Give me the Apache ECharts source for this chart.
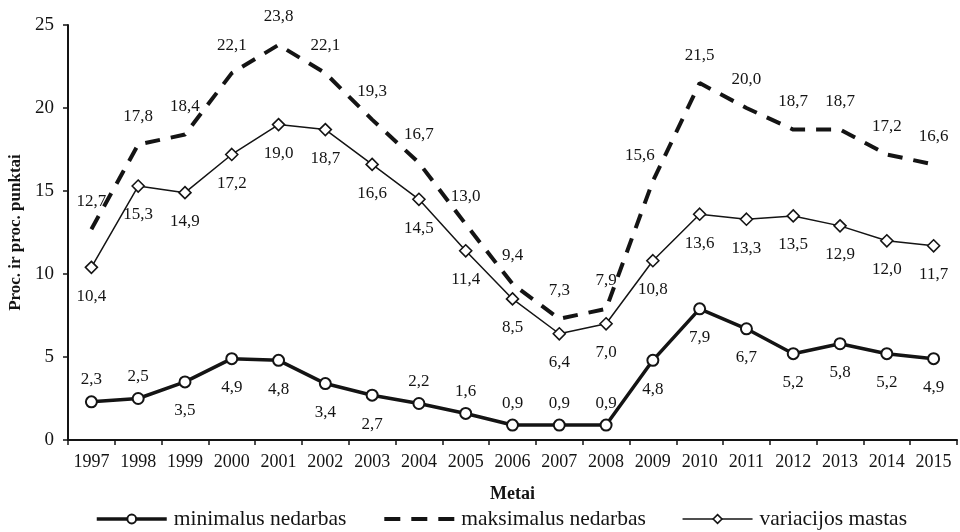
<!DOCTYPE html>
<html><head><meta charset="utf-8">
<script src="https://cdn.jsdelivr.net/npm/echarts@6/dist/echarts.min.js"></script>
<style>html,body{margin:0;padding:0;background:#fff}#c{width:960px;height:532px}</style>
</head><body><div id="c"></div>
<script>
const years = ['1997','1998','1999','2000','2001','2002','2003','2004','2005','2006','2007','2008','2009','2010','2011','2012','2013','2014','2015'];
const minValues = [2.3, 2.5, 3.5, 4.9, 4.8, 3.4, 2.7, 2.2, 1.6, 0.9, 0.9, 0.9, 4.8, 7.9, 6.7, 5.2, 5.8, 5.2, 4.9];
const maxValues = [12.7, 17.8, 18.4, 22.1, 23.8, 22.1, 19.3, 16.7, 13.0, 9.4, 7.3, 7.9, 15.6, 21.5, 20.0, 18.7, 18.7, 17.2, 16.6];
const rangeValues = [10.4, 15.3, 14.9, 17.2, 19.0, 18.7, 16.6, 14.5, 11.4, 8.5, 6.4, 7.0, 10.8, 13.6, 13.3, 13.5, 12.9, 12.0, 11.7];
const seriesNames = ['minimalus nedarbas', 'maksimalus nedarbas', 'variacijos mastas'];
const yAxisName = 'Proc. ir proc. punktai';
const xAxisName = 'Metai';

// label placement (style only): 'u' = above point, 'd' = below point
const minLabelSide = ['u','u','d','d','d','d','d','u','u','u','u','u','d','d','d','d','d','d','d'];
const maxLabelSide = ['u','u','u','u','u','u','u','u','u','u','u','u','ul','u','u','u','u','u','u'];
const rangeLabelSide = years.map(() => 'd');

const FONT = '"Liberation Serif", "Times New Roman", serif';
const INK = '#141414';

function fmt(v) { return v.toFixed(1).replace('.', ','); }
function offsetFor(side, up, down) {
  if (side === 'u') return [0, up];
  if (side === 'ul') return [-13, up + 2];
  return [0, down];
}
function build(values, sides, up, down) {
  return values.map((v, i) => ({ value: v, label: { offset: offsetFor(sides[i], up, down) } }));
}
const labelBase = {
  show: true, position: 'inside', color: INK, fontFamily: FONT, fontSize: 17,
  formatter: p => fmt(p.value)
};

const chart = echarts.init(document.getElementById('c'), null, { renderer: 'canvas' });
chart.setOption({
  animation: false,
  backgroundColor: '#fff',
  textStyle: { fontFamily: FONT, color: INK },
  grid: { left: 68, right: 3, top: 25, bottom: 92, containLabel: false, outerBoundsMode: 'none' },
  legend: {
    left: 95, top: 508, padding: 0, itemWidth: 70, itemHeight: 11, itemGap: 36,
    textStyle: { fontFamily: FONT, fontSize: 21.5, color: INK, padding: [0, 0, 0, 2] },
    data: [
      { name: seriesNames[0], lineStyle: { width: 3.5, color: INK }, itemStyle: { color: '#fff', borderColor: INK, borderWidth: 2 } },
      { name: seriesNames[1], lineStyle: { width: 4, color: INK, type: [16, 11] }, itemStyle: { color: 'rgba(0,0,0,0)', borderWidth: 0 } },
      { name: seriesNames[2], lineStyle: { width: 1.5, color: INK }, itemStyle: { color: '#fff', borderColor: INK, borderWidth: 1.6 } }
    ]
  },
  xAxis: {
    type: 'category', data: years, boundaryGap: true,
    name: xAxisName, nameLocation: 'middle', nameGap: 45,
    nameTextStyle: { fontFamily: FONT, fontSize: 18, fontWeight: 'bold', color: INK },
    axisLine: { lineStyle: { color: INK, width: 2 } },
    axisTick: { show: true, length: 5, lineStyle: { color: INK, width: 1.5 } },
    axisLabel: { interval: 0, fontFamily: FONT, fontSize: 18, color: INK, margin: 13 },
    splitLine: { show: false }
  },
  yAxis: {
    type: 'value', min: 0, max: 25, interval: 5,
    name: yAxisName, nameLocation: 'middle', nameGap: 42, nameRotate: 90,
    nameTextStyle: { fontFamily: FONT, fontSize: 17, fontWeight: 'bold', color: INK },
    axisLine: { show: true, lineStyle: { color: INK, width: 2 } },
    axisTick: { show: true, length: 5, lineStyle: { color: INK, width: 1.5 } },
    axisLabel: { fontFamily: FONT, fontSize: 19, color: INK, margin: 14 },
    splitLine: { show: false }
  },
  series: [
    {
      name: seriesNames[0], type: 'line', z: 4,
      data: build(minValues, minLabelSide, -22, 29),
      symbol: 'circle', symbolSize: 11,
      itemStyle: { color: '#fff', borderColor: INK, borderWidth: 2 },
      lineStyle: { color: INK, width: 3.5 },
      label: labelBase
    },
    {
      name: seriesNames[1], type: 'line', z: 2,
      data: build(maxValues, maxLabelSide, -28, 28),
      symbol: 'circle', symbolSize: 0,
      itemStyle: { color: 'rgba(0,0,0,0)', borderWidth: 0 },
      lineStyle: { color: INK, width: 4, type: [15, 11] },
      label: labelBase
    },
    {
      name: seriesNames[2], type: 'line', z: 3,
      data: build(rangeValues, rangeLabelSide, -29, 29),
      symbol: 'diamond', symbolSize: 12,
      itemStyle: { color: '#fff', borderColor: INK, borderWidth: 1.6 },
      lineStyle: { color: INK, width: 1.5 },
      label: labelBase
    }
  ]
});
</script>
</body></html>
